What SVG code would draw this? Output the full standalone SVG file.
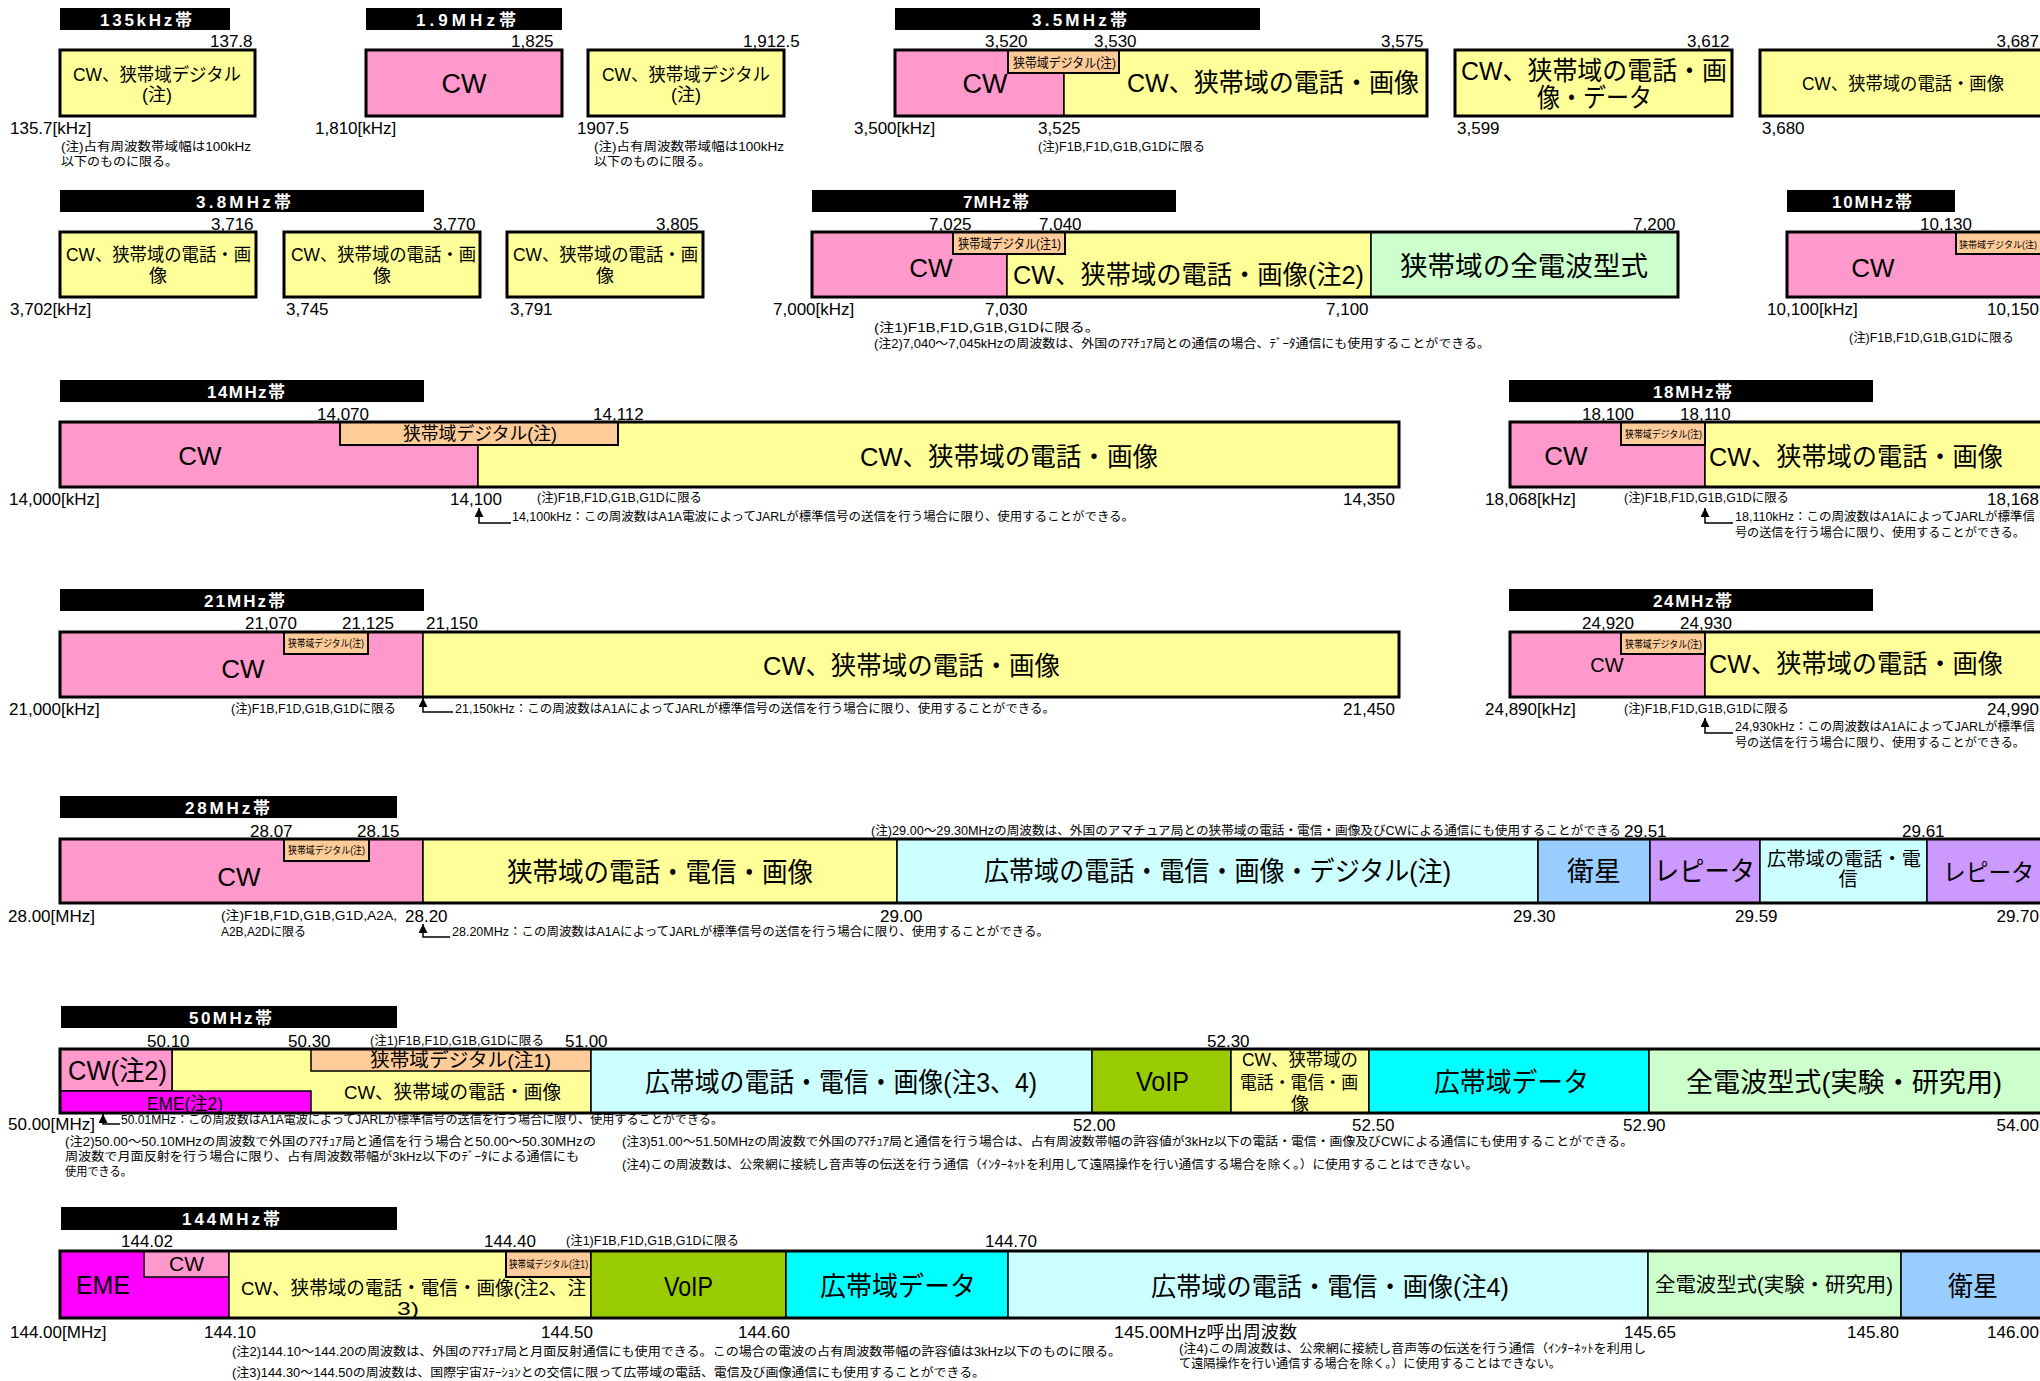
<svg xmlns="http://www.w3.org/2000/svg" width="2040" height="1381" viewBox="0 0 2040 1381">
<defs>
<style>
text{font-family:"Liberation Sans","Noto Sans CJK JP",sans-serif;fill:#000}
.h{fill:#000}
.ht{fill:#fff;font-weight:bold;font-size:17px}
.l{font-size:17px}
.e{text-anchor:end}
.n{font-size:12px}
.t10{font-size:10px}
.t13{font-size:13px}
.t18{font-size:18px}
.t19{font-size:19px}
.t20{font-size:20px}
.t26{font-size:26px}
.t27{font-size:27px}
.m{text-anchor:middle}
.s{stroke:#000;stroke-width:1.5}
.so{stroke:#000;stroke-width:2}
.f{fill:none;stroke:#000;stroke-width:3}
.y{fill:#FFFF99}.p{fill:#FF99CC}.o{fill:#FFCC99}.g{fill:#CCFFCC}.lc{fill:#CCFFFF}
.b{fill:#99CCFF}.v{fill:#CC99FF}.ol{fill:#99CC00}.cy{fill:#00FFFF}.mg{fill:#FF00FF}
.cn{fill:none;stroke:#000;stroke-width:1.5}
</style>
<marker id="ah" markerWidth="9" markerHeight="9" refX="9" refY="4.5" orient="auto" markerUnits="userSpaceOnUse"><path d="M0,0 L9,4.5 L0,9 z" fill="#000"/></marker>
</defs>
<rect width="2040" height="1381" fill="#fff"/>

<!-- 135kHz -->
<g id="band-135khz">
<rect class="h" x="60" y="8" width="170" height="22"/>
<text class="ht" x="100" y="26" textLength="92" lengthAdjust="spacing">135kHz帯</text>
<text class="l" x="210" y="47">137.8</text>
<rect class="y s" x="60" y="50" width="195" height="66"/>
<rect class="f" x="60" y="50" width="195" height="66"/>
<text class="t18" x="73" y="81" textLength="168" lengthAdjust="spacingAndGlyphs">CW、狭帯域デジタル</text>
<text class="t18 m" x="157" y="101">(注)</text>
<text class="l" x="10" y="134">135.7[kHz]</text>
<text class="n" x="61" y="151" textLength="190" lengthAdjust="spacingAndGlyphs">(注)占有周波数帯域幅は100kHz</text>
<text class="n" x="61" y="166" textLength="117" lengthAdjust="spacingAndGlyphs">以下のものに限る。</text>
</g>

<!-- 1.9MHz -->
<g id="band-1_9mhz">
<rect class="h" x="366" y="8" width="196" height="22"/>
<text class="ht" x="416" y="26" textLength="100" lengthAdjust="spacing">1.9MHz帯</text>
<text class="l" x="511" y="47">1,825</text>
<rect class="p s" x="366" y="50" width="196" height="66"/>
<rect class="f" x="366" y="50" width="196" height="66"/>
<text class="t27 m" x="464" y="93">CW</text>
<text class="l" x="315" y="134">1,810[kHz]</text>
<rect class="y s" x="588" y="50" width="196" height="66"/>
<rect class="f" x="588" y="50" width="196" height="66"/>
<text class="t18" x="602" y="81" textLength="168" lengthAdjust="spacingAndGlyphs">CW、狭帯域デジタル</text>
<text class="t18 m" x="686" y="101">(注)</text>
<text class="l" x="743" y="47">1,912.5</text>
<text class="l" x="577" y="134">1907.5</text>
<text class="n" x="594" y="151" textLength="190" lengthAdjust="spacingAndGlyphs">(注)占有周波数帯域幅は100kHz</text>
<text class="n" x="594" y="166" textLength="117" lengthAdjust="spacingAndGlyphs">以下のものに限る。</text>
</g>

<!-- 3.5MHz -->
<g id="band-3_5mhz">
<rect class="h" x="895" y="8" width="365" height="22"/>
<text class="ht" x="1032" y="26" textLength="95" lengthAdjust="spacing">3.5MHz帯</text>
<text class="l" x="985" y="47">3,520</text>
<text class="l" x="1094" y="47">3,530</text>
<text class="l" x="1381" y="47">3,575</text>
<rect class="p s" x="895" y="50" width="169" height="66"/>
<rect class="y s" x="1064" y="50" width="363" height="66"/>
<rect class="o so" x="1008" y="50" width="111" height="23"/>
<rect class="f" x="895" y="50" width="532" height="66"/>
<text class="t13" x="1013" y="67" textLength="103" lengthAdjust="spacingAndGlyphs">狭帯域デジタル(注)</text>
<text class="t27 m" x="985" y="93">CW</text>
<text class="t26" x="1127" y="92" textLength="292" lengthAdjust="spacingAndGlyphs">CW、狭帯域の電話・画像</text>
<text class="l" x="854" y="134">3,500[kHz]</text>
<text class="l" x="1038" y="134">3,525</text>
<text class="n" x="1038" y="151" textLength="167" lengthAdjust="spacingAndGlyphs">(注)F1B,F1D,G1B,G1Dに限る</text>
<rect class="y s" x="1455" y="50" width="277" height="66"/>
<rect class="f" x="1455" y="50" width="277" height="66"/>
<text class="t26" x="1461" y="80" textLength="266" lengthAdjust="spacingAndGlyphs">CW、狭帯域の電話・画</text>
<text class="t26" x="1537" y="107" textLength="115" lengthAdjust="spacingAndGlyphs">像・データ</text>
<text class="l" x="1687" y="47">3,612</text>
<text class="l" x="1457" y="134">3,599</text>
<rect class="y s" x="1760" y="50" width="290" height="66"/>
<rect class="f" x="1760" y="50" width="290" height="66"/>
<text class="t18" x="1802" y="90" textLength="202" lengthAdjust="spacingAndGlyphs">CW、狭帯域の電話・画像</text>
<text class="l e" x="2039" y="47">3,687</text>
<text class="l" x="1762" y="134">3,680</text>
</g>

<!-- 3.8MHz -->
<g id="band-3_8mhz">
<rect class="h" x="60" y="190" width="364" height="22"/>
<text class="ht" x="196" y="208" textLength="95" lengthAdjust="spacing">3.8MHz帯</text>
<text class="l" x="211" y="230">3,716</text>
<text class="l" x="433" y="230">3,770</text>
<text class="l" x="656" y="230">3,805</text>
<rect class="y s" x="60" y="232" width="196" height="65"/>
<rect class="f" x="60" y="232" width="196" height="65"/>
<rect class="y s" x="284" y="232" width="196" height="65"/>
<rect class="f" x="284" y="232" width="196" height="65"/>
<rect class="y s" x="507" y="232" width="196" height="65"/>
<rect class="f" x="507" y="232" width="196" height="65"/>
<text class="t18" x="66" y="261" textLength="185" lengthAdjust="spacingAndGlyphs">CW、狭帯域の電話・画</text>
<text class="t18 m" x="158" y="282">像</text>
<text class="t18" x="291" y="261" textLength="185" lengthAdjust="spacingAndGlyphs">CW、狭帯域の電話・画</text>
<text class="t18 m" x="382" y="282">像</text>
<text class="t18" x="513" y="261" textLength="185" lengthAdjust="spacingAndGlyphs">CW、狭帯域の電話・画</text>
<text class="t18 m" x="605" y="282">像</text>
<text class="l" x="10" y="315">3,702[kHz]</text>
<text class="l" x="286" y="315">3,745</text>
<text class="l" x="510" y="315">3,791</text>
</g>

<!-- 7MHz -->
<g id="band-7mhz">
<rect class="h" x="812" y="190" width="364" height="22"/>
<text class="ht" x="963" y="208" textLength="66" lengthAdjust="spacing">7MHz帯</text>
<text class="l" x="929" y="230">7,025</text>
<text class="l" x="1039" y="230">7,040</text>
<text class="l" x="1633" y="230">7,200</text>
<rect class="p s" x="812" y="232" width="195" height="65"/>
<rect class="y s" x="1007" y="232" width="364" height="65"/>
<rect class="g s" x="1371" y="232" width="307" height="65"/>
<rect class="o so" x="953" y="232" width="112" height="22"/>
<rect class="f" x="812" y="232" width="866" height="65"/>
<text class="t13" x="958" y="248" textLength="103" lengthAdjust="spacingAndGlyphs">狭帯域デジタル(注1)</text>
<text class="t26 m" x="931" y="277">CW</text>
<text class="t26" x="1013" y="284" textLength="351" lengthAdjust="spacingAndGlyphs">CW、狭帯域の電話・画像(注2)</text>
<text class="t27" x="1400" y="276" textLength="248" lengthAdjust="spacingAndGlyphs">狭帯域の全電波型式</text>
<text class="l" x="773" y="315">7,000[kHz]</text>
<text class="l" x="985" y="315">7,030</text>
<text class="l" x="1326" y="315">7,100</text>
<text class="n" x="874" y="332" textLength="226" lengthAdjust="spacingAndGlyphs">(注1)F1B,F1D,G1B,G1Dに限る。</text>
<text class="n" x="874" y="348" textLength="616" lengthAdjust="spacingAndGlyphs">(注2)7,040～7,045kHzの周波数は、外国のｱﾏﾁｭｱ局との通信の場合、ﾃﾞｰﾀ通信にも使用することができる。</text>
</g>

<!-- 10MHz -->
<g id="band-10mhz">
<rect class="h" x="1787" y="190" width="168" height="22"/>
<text class="ht" x="1832" y="208" textLength="80" lengthAdjust="spacing">10MHz帯</text>
<text class="l" x="1920" y="230">10,130</text>
<rect class="p s" x="1787" y="232" width="263" height="65"/>
<rect class="o so" x="1956" y="232" width="94" height="22"/>
<rect class="f" x="1787" y="232" width="263" height="65"/>
<text x="1959" y="248" font-size="9.5" textLength="78" lengthAdjust="spacingAndGlyphs">狭帯域デジタル(注)</text>
<text class="t26 m" x="1873" y="277">CW</text>
<text class="l" x="1767" y="315">10,100[kHz]</text>
<text class="l e" x="2039" y="315">10,150</text>
<text class="n" x="1849" y="342" textLength="165" lengthAdjust="spacingAndGlyphs">(注)F1B,F1D,G1B,G1Dに限る</text>
</g>

<!-- 14MHz -->
<g id="band-14mhz">
<rect class="h" x="60" y="380" width="364" height="22"/>
<text class="ht" x="207" y="398" textLength="78" lengthAdjust="spacing">14MHz帯</text>
<text class="l" x="317" y="420">14,070</text>
<text class="l" x="593" y="420">14,112</text>
<rect class="p s" x="60" y="422" width="418" height="65"/>
<rect class="y s" x="478" y="422" width="921" height="65"/>
<rect class="o so" x="340" y="422" width="278" height="23"/>
<rect class="f" x="60" y="422" width="1339" height="65"/>
<text class="t18" x="403" y="440" textLength="154" lengthAdjust="spacingAndGlyphs">狭帯域デジタル(注)</text>
<text class="t26 m" x="200" y="465">CW</text>
<text class="t26" x="860" y="466" textLength="298" lengthAdjust="spacingAndGlyphs">CW、狭帯域の電話・画像</text>
<text class="l" x="9" y="505">14,000[kHz]</text>
<text class="l" x="450" y="505">14,100</text>
<text class="n" x="537" y="502" textLength="165" lengthAdjust="spacingAndGlyphs">(注)F1B,F1D,G1B,G1Dに限る</text>
<text class="l" x="1343" y="505">14,350</text>
<text class="n" x="512" y="521" textLength="622" lengthAdjust="spacingAndGlyphs">14,100kHz：この周波数はA1A電波によってJARLが標準信号の送信を行う場合に限り、使用することができる。</text>
</g>

<!-- 18MHz -->
<g id="band-18mhz">
<rect class="h" x="1509" y="380" width="364" height="22"/>
<text class="ht" x="1653" y="398" textLength="79" lengthAdjust="spacing">18MHz帯</text>
<text class="l" x="1582" y="420">18,100</text>
<text class="l" x="1680" y="420">18,110</text>
<rect class="p s" x="1510" y="422" width="195" height="65"/>
<rect class="y s" x="1705" y="422" width="345" height="65"/>
<rect class="o so" x="1621" y="422" width="84" height="23"/>
<rect class="f" x="1510" y="422" width="540" height="65"/>
<text class="t10" x="1625" y="438" textLength="77" lengthAdjust="spacingAndGlyphs">狭帯域デジタル(注)</text>
<text class="t26 m" x="1566" y="465">CW</text>
<text class="t26" x="1709" y="466" textLength="294" lengthAdjust="spacingAndGlyphs">CW、狭帯域の電話・画像</text>
<text class="l" x="1485" y="505">18,068[kHz]</text>
<text class="n" x="1624" y="502" textLength="165" lengthAdjust="spacingAndGlyphs">(注)F1B,F1D,G1B,G1Dに限る</text>
<text class="l e" x="2039" y="505">18,168</text>
<text x="1735" y="521" font-size="12.3" textLength="300" lengthAdjust="spacingAndGlyphs">18,110kHz：この周波数はA1AによってJARLが標準信</text>
<text x="1735" y="537" font-size="12" textLength="290" lengthAdjust="spacingAndGlyphs">号の送信を行う場合に限り、使用することができる。</text>
</g>

<!-- 21MHz -->
<g id="band-21mhz">
<rect class="h" x="60" y="589" width="364" height="22"/>
<text class="ht" x="204" y="607" textLength="81" lengthAdjust="spacing">21MHz帯</text>
<text class="l" x="245" y="629">21,070</text>
<text class="l" x="342" y="629">21,125</text>
<text class="l" x="426" y="629">21,150</text>
<rect class="p s" x="60" y="632" width="363" height="65"/>
<rect class="y s" x="423" y="632" width="976" height="65"/>
<rect class="o so" x="284" y="632" width="84" height="22"/>
<rect class="f" x="60" y="632" width="1339" height="65"/>
<text class="t10" x="288" y="647" textLength="76" lengthAdjust="spacingAndGlyphs">狭帯域デジタル(注)</text>
<text class="t26 m" x="243" y="678">CW</text>
<text class="t26" x="763" y="675" textLength="297" lengthAdjust="spacingAndGlyphs">CW、狭帯域の電話・画像</text>
<text class="l" x="9" y="715">21,000[kHz]</text>
<text class="n" x="231" y="713" textLength="165" lengthAdjust="spacingAndGlyphs">(注)F1B,F1D,G1B,G1Dに限る</text>
<text class="n" x="455" y="713" textLength="600" lengthAdjust="spacingAndGlyphs">21,150kHz：この周波数はA1AによってJARLが標準信号の送信を行う場合に限り、使用することができる。</text>
<text class="l" x="1343" y="715">21,450</text>
</g>

<!-- 24MHz -->
<g id="band-24mhz">
<rect class="h" x="1509" y="589" width="364" height="22"/>
<text class="ht" x="1653" y="607" textLength="79" lengthAdjust="spacing">24MHz帯</text>
<text class="l" x="1582" y="629">24,920</text>
<text class="l" x="1680" y="629">24,930</text>
<rect class="p s" x="1510" y="632" width="195" height="65"/>
<rect class="y s" x="1705" y="632" width="345" height="65"/>
<rect class="o so" x="1621" y="632" width="84" height="22"/>
<rect class="f" x="1510" y="632" width="540" height="65"/>
<text class="t10" x="1625" y="648" textLength="77" lengthAdjust="spacingAndGlyphs">狭帯域デジタル(注)</text>
<text class="t20 m" x="1607" y="672">CW</text>
<text class="t26" x="1709" y="673" textLength="294" lengthAdjust="spacingAndGlyphs">CW、狭帯域の電話・画像</text>
<text class="l" x="1485" y="715">24,890[kHz]</text>
<text class="n" x="1624" y="713" textLength="165" lengthAdjust="spacingAndGlyphs">(注)F1B,F1D,G1B,G1Dに限る</text>
<text class="l e" x="2039" y="715">24,990</text>
<text x="1735" y="731" font-size="12.3" textLength="300" lengthAdjust="spacingAndGlyphs">24,930kHz：この周波数はA1AによってJARLが標準信</text>
<text x="1735" y="747" font-size="12" textLength="290" lengthAdjust="spacingAndGlyphs">号の送信を行う場合に限り、使用することができる。</text>
</g>

<!-- 28MHz -->
<g id="band-28mhz">
<rect class="h" x="60" y="796" width="337" height="22"/>
<text class="ht" x="185" y="814" textLength="85" lengthAdjust="spacing">28MHz帯</text>
<text class="l" x="250" y="837">28.07</text>
<text class="l" x="357" y="837">28.15</text>
<text class="n" x="871" y="835" textLength="750" lengthAdjust="spacingAndGlyphs">(注)29.00～29.30MHzの周波数は、外国のアマチュア局との狭帯域の電話・電信・画像及びCWによる通信にも使用することができる</text>
<text class="l" x="1624" y="837">29.51</text>
<text class="l" x="1902" y="837">29.61</text>
<rect class="p s" x="60" y="839" width="363" height="64"/>
<rect class="y s" x="423" y="839" width="474" height="64"/>
<rect class="lc s" x="897" y="839" width="641" height="64"/>
<rect class="b s" x="1538" y="839" width="112" height="64"/>
<rect class="v s" x="1650" y="839" width="110" height="64"/>
<rect class="lc s" x="1760" y="839" width="167" height="64"/>
<rect class="v s" x="1927" y="839" width="123" height="64"/>
<rect class="o so" x="284" y="839" width="85" height="22"/>
<rect class="f" x="60" y="839" width="1990" height="64"/>
<text class="t10" x="288" y="854" textLength="77" lengthAdjust="spacingAndGlyphs">狭帯域デジタル(注)</text>
<text class="t26 m" x="239" y="886">CW</text>
<text class="t27" x="507" y="882" textLength="306" lengthAdjust="spacingAndGlyphs">狭帯域の電話・電信・画像</text>
<text class="t27" x="984" y="881" textLength="467" lengthAdjust="spacingAndGlyphs">広帯域の電話・電信・画像・デジタル(注)</text>
<text class="t27" x="1567" y="881" textLength="54" lengthAdjust="spacingAndGlyphs">衛星</text>
<text class="t27" x="1654" y="881" textLength="101" lengthAdjust="spacingAndGlyphs">レピータ</text>
<text class="t19" x="1767" y="866" textLength="154" lengthAdjust="spacingAndGlyphs">広帯域の電話・電</text>
<text class="t19 m" x="1848" y="886">信</text>
<text x="1943" y="881" font-size="24" textLength="91" lengthAdjust="spacingAndGlyphs">レピータ</text>
<text class="l" x="8" y="922">28.00[MHz]</text>
<text class="n" x="221" y="920" textLength="176" lengthAdjust="spacingAndGlyphs">(注)F1B,F1D,G1B,G1D,A2A,</text>
<text class="n" x="221" y="936" textLength="85" lengthAdjust="spacingAndGlyphs">A2B,A2Dに限る</text>
<text class="l" x="405" y="922">28.20</text>
<text class="n" x="452" y="936" textLength="597" lengthAdjust="spacingAndGlyphs">28.20MHz：この周波数はA1AによってJARLが標準信号の送信を行う場合に限り、使用することができる。</text>
<text class="l" x="880" y="922">29.00</text>
<text class="l" x="1513" y="922">29.30</text>
<text class="l" x="1735" y="922">29.59</text>
<text class="l e" x="2039" y="922">29.70</text>
</g>

<!-- 50MHz -->
<g id="band-50mhz">
<rect class="h" x="61" y="1006" width="336" height="22"/>
<text class="ht" x="189" y="1024" textLength="83" lengthAdjust="spacing">50MHz帯</text>
<text class="l" x="147" y="1047">50.10</text>
<text class="l" x="288" y="1047">50.30</text>
<text class="n" x="370" y="1045" textLength="174" lengthAdjust="spacingAndGlyphs">(注1)F1B,F1D,G1B,G1Dに限る</text>
<text class="l" x="565" y="1047">51.00</text>
<text class="l" x="1207" y="1047">52.30</text>
<rect class="y s" x="172" y="1049" width="419" height="64"/>
<rect class="p s" x="60" y="1049" width="112" height="42"/>
<rect class="mg s" x="60" y="1091" width="251" height="22"/>
<rect class="o s" x="311" y="1049" width="280" height="22"/>
<rect class="lc s" x="591" y="1049" width="501" height="64"/>
<rect class="ol s" x="1092" y="1049" width="139" height="64"/>
<rect class="y s" x="1231" y="1049" width="138" height="64"/>
<rect class="cy s" x="1369" y="1049" width="280" height="64"/>
<rect class="g s" x="1649" y="1049" width="401" height="64"/>
<rect class="f" x="60" y="1049" width="1990" height="64"/>
<text class="t27" x="68" y="1080" textLength="99" lengthAdjust="spacingAndGlyphs">CW(注2)</text>
<text class="t18" x="147" y="1110" textLength="76" lengthAdjust="spacingAndGlyphs">EME(注2)</text>
<text class="t19" x="370" y="1067" textLength="181" lengthAdjust="spacingAndGlyphs">狭帯域デジタル(注1)</text>
<text class="t19" x="344" y="1099" textLength="217" lengthAdjust="spacingAndGlyphs">CW、狭帯域の電話・画像</text>
<text class="t27" x="645" y="1092" textLength="392" lengthAdjust="spacingAndGlyphs">広帯域の電話・電信・画像(注3、4)</text>
<text class="t27" x="1136" y="1091" textLength="53" lengthAdjust="spacingAndGlyphs">VoIP</text>
<text class="t18" x="1242" y="1066" textLength="116" lengthAdjust="spacingAndGlyphs">CW、狭帯域の</text>
<text class="t18" x="1240" y="1089" textLength="118" lengthAdjust="spacingAndGlyphs">電話・電信・画</text>
<text class="t18 m" x="1300" y="1110">像</text>
<text class="t27" x="1434" y="1092" textLength="155" lengthAdjust="spacingAndGlyphs">広帯域データ</text>
<text class="t27" x="1686" y="1092" textLength="316" lengthAdjust="spacingAndGlyphs">全電波型式(実験・研究用)</text>
<text class="l" x="8" y="1130">50.00[MHz]</text>
<text class="n" x="121" y="1124" textLength="602" lengthAdjust="spacingAndGlyphs">50.01MHz：この周波数はA1A電波によってJARLが標準信号の送信を行う場合に限り、使用することができる。</text>
<text class="l" x="1073" y="1131">52.00</text>
<text class="l" x="1352" y="1131">52.50</text>
<text class="l" x="1623" y="1131">52.90</text>
<text class="l e" x="2039" y="1131">54.00</text>
<text class="n" x="65" y="1146" textLength="531" lengthAdjust="spacingAndGlyphs">(注2)50.00～50.10MHzの周波数で外国のｱﾏﾁｭｱ局と通信を行う場合と50.00～50.30MHzの</text>
<text class="n" x="65" y="1161" textLength="514" lengthAdjust="spacingAndGlyphs">周波数で月面反射を行う場合に限り、占有周波数帯幅が3kHz以下のﾃﾞｰﾀによる通信にも</text>
<text class="n" x="65" y="1176" textLength="67" lengthAdjust="spacingAndGlyphs">使用できる。</text>
<text class="n" x="622" y="1146" textLength="1011" lengthAdjust="spacingAndGlyphs">(注3)51.00～51.50MHzの周波数で外国のｱﾏﾁｭｱ局と通信を行う場合は、占有周波数帯幅の許容値が3kHz以下の電話・電信・画像及びCWによる通信にも使用することができる。</text>
<text class="n" x="622" y="1169" textLength="856" lengthAdjust="spacingAndGlyphs">(注4)この周波数は、公衆網に接続し音声等の伝送を行う通信（ｲﾝﾀｰﾈｯﾄを利用して遠隔操作を行い通信する場合を除く。）に使用することはできない。</text>
</g>

<!-- 144MHz -->
<g id="band-144mhz">
<rect class="h" x="61" y="1207" width="336" height="23"/>
<text class="ht" x="182" y="1225" textLength="98" lengthAdjust="spacing">144MHz帯</text>
<text class="l" x="121" y="1247">144.02</text>
<text class="l" x="484" y="1247">144.40</text>
<text class="n" x="566" y="1245" textLength="173" lengthAdjust="spacingAndGlyphs">(注1)F1B,F1D,G1B,G1Dに限る</text>
<text class="l" x="985" y="1247">144.70</text>
<rect class="mg s" x="60" y="1251" width="169" height="67"/>
<rect class="p s" x="144" y="1251" width="85" height="26"/>
<rect class="y s" x="229" y="1251" width="362" height="67"/>
<rect class="o so" x="506" y="1251" width="85" height="26"/>
<rect class="ol s" x="591" y="1251" width="195" height="67"/>
<rect class="cy s" x="786" y="1251" width="222" height="67"/>
<rect class="lc s" x="1008" y="1251" width="640" height="67"/>
<rect class="g s" x="1648" y="1251" width="253" height="67"/>
<rect class="b s" x="1901" y="1251" width="149" height="67"/>
<rect class="f" x="60" y="1251" width="1990" height="67"/>
<text class="t26" x="76" y="1294" textLength="54" lengthAdjust="spacingAndGlyphs">EME</text>
<text class="t20" x="169" y="1271" textLength="35" lengthAdjust="spacingAndGlyphs">CW</text>
<text class="t10" x="509" y="1268" textLength="79" lengthAdjust="spacingAndGlyphs">狭帯域デジタル(注1)</text>
<text class="t19" x="241" y="1295" textLength="345" lengthAdjust="spacingAndGlyphs">CW、狭帯域の電話・電信・画像(注2、注</text>
<text class="t19" x="397" y="1315" textLength="22" lengthAdjust="spacingAndGlyphs">3)</text>
<text class="t27" x="664" y="1296" textLength="49" lengthAdjust="spacingAndGlyphs">VoIP</text>
<text class="t27" x="820" y="1296" textLength="156" lengthAdjust="spacingAndGlyphs">広帯域データ</text>
<text class="t26" x="1151" y="1296" textLength="358" lengthAdjust="spacingAndGlyphs">広帯域の電話・電信・画像(注4)</text>
<text class="t20" x="1655" y="1292" textLength="238" lengthAdjust="spacingAndGlyphs">全電波型式(実験・研究用)</text>
<text class="t27" x="1948" y="1296" textLength="50" lengthAdjust="spacingAndGlyphs">衛星</text>
<text class="l" x="10" y="1338">144.00[MHz]</text>
<text class="l" x="204" y="1338">144.10</text>
<text class="l" x="541" y="1338">144.50</text>
<text class="l" x="738" y="1338">144.60</text>
<text class="l" x="1114" y="1338" textLength="183" lengthAdjust="spacingAndGlyphs">145.00MHz呼出周波数</text>
<text class="l" x="1624" y="1338">145.65</text>
<text class="l" x="1847" y="1338">145.80</text>
<text class="l e" x="2039" y="1338">146.00</text>
<text class="n" x="232" y="1356" textLength="889" lengthAdjust="spacingAndGlyphs">(注2)144.10～144.20の周波数は、外国のｱﾏﾁｭｱ局と月面反射通信にも使用できる。この場合の電波の占有周波数帯幅の許容値は3kHz以下のものに限る。</text>
<text class="n" x="232" y="1377" textLength="753" lengthAdjust="spacingAndGlyphs">(注3)144.30～144.50の周波数は、国際宇宙ｽﾃｰｼｮﾝとの交信に限って広帯域の電話、電信及び画像通信にも使用することができる。</text>
<text class="n" x="1179" y="1353" textLength="467" lengthAdjust="spacingAndGlyphs">(注4)この周波数は、公衆網に接続し音声等の伝送を行う通信（ｲﾝﾀｰﾈｯﾄを利用し</text>
<text class="n" x="1179" y="1368" textLength="382" lengthAdjust="spacingAndGlyphs">て遠隔操作を行い通信する場合を除く。）に使用することはできない。</text>
</g>

<!-- connectors -->
<g id="connectors">
<path class="cn" d="M511,523 H479 V508" marker-end="url(#ah)"/>
<path class="cn" d="M1733,523 H1705 V508" marker-end="url(#ah)"/>
<path class="cn" d="M453,712 H423 V698" marker-end="url(#ah)"/>
<path class="cn" d="M1733,733 H1705 V718" marker-end="url(#ah)"/>
<path class="cn" d="M450,937 H423 V924" marker-end="url(#ah)"/>
<path class="cn" d="M120,1124 H103 V1114" marker-end="url(#ah)"/>
</g>
</svg>
